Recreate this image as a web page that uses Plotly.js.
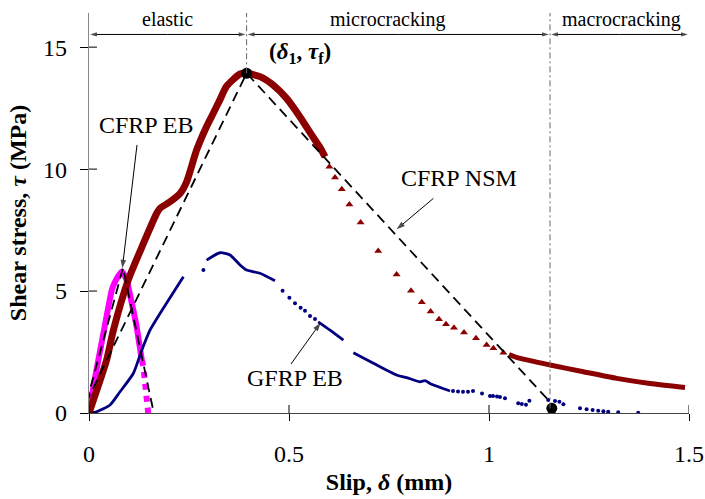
<!DOCTYPE html>
<html>
<head>
<meta charset="utf-8">
<script src="https://cdn.plot.ly/plotly-3.0.1.min.js"></script>
<style>html,body{margin:0;padding:0;background:#fff;}#chart{width:705px;height:499px;}</style>
</head>
<body>
<div id="chart"></div>
<script>
// ---- data ----
var xTicks = [0, 0.5, 1, 1.5];
var xTickLabels = ['0', '0.5', '1', '1.5'];
var yTicks = [0, 5, 10, 15];
var yTickLabels = ['0', '5', '10', '15'];

// CFRP EB (magenta)
var ebSolidX = [0, 0.011, 0.036, 0.057, 0.065, 0.082, 0.094, 0.107, 0.119, 0.132];
var ebSolidY = [0, 1.08, 3.27, 5.04, 5.38, 5.80, 5.45, 4.50, 3.54, 2.17];
var ebDotX = [0.132, 0.136, 0.142, 0.148];
var ebDotY = [2.17, 1.9, 0.95, 0];

// GFRP EB (navy): dense parts drawn as line, sparse parts as dots
var gfrpLineX = [0, 0.019, 0.0525, 0.0775, 0.111, 0.132, 0.1525, 0.1775, 0.236, null,
  0.294, 0.3275, 0.3525, 0.3775, 0.394, 0.4275, 0.465, null,
  0.573, 0.6025, 0.636, null,
  0.661, 0.711, 0.769, 0.8, 0.8275, 0.84, 0.8525, 0.9025];
var gfrpLineY = [0, 0.05, 0.33, 0.87, 1.63, 2.58, 3.4, 4.08, 5.59, null,
  6.27, 6.57, 6.48, 6.07, 5.86, 5.73, 5.42, null,
  3.74, 3.4, 2.99, null,
  2.47, 2.04, 1.56, 1.42, 1.28, 1.33, 1.21, 0.9];
var gfrpDotX = [0.286, 0.484, 0.501, 0.515, 0.529, 0.54, 0.5525, 0.565,
  0.91, 0.9225, 0.935, 0.9475, 0.96, 0.9825, 1.0025, 1.01, 1.02, 1.0275, 1.04,
  1.073, 1.082, 1.0925, 1.101, 1.148, 1.165, 1.176, 1.186,
  1.2275, 1.244, 1.259, 1.273, 1.286, 1.298, 1.323, 1.373];
var gfrpDotY = [5.86, 5.01, 4.73, 4.5, 4.32, 4.19, 3.98, 3.85,
  0.9, 0.88, 0.87, 0.87, 0.9, 0.8, 0.7, 0.7, 0.68, 0.66, 0.6,
  0.4, 0.37, 0.34, 0.5, 0.53, 0.49, 0.46, 0.36,
  0.19, 0.15, 0.12, 0.09, 0.07, 0.05, 0.03, 0.01];

// CFRP NSM (dark red)
var nsmDenseX = [0, 0.011, 0.044, 0.061, 0.098, 0.136, 0.169, 0.1775, 0.2025, 0.2275, 0.244, 0.269, 0.294, 0.311, 0.3275, 0.344, 0.3775, 0.394, 0.4275, 0.461, 0.494, 0.5275, 0.557, 0.5775, 0.59];
var nsmDenseY = [0, 0.53, 2.17, 3.4, 5.45, 6.95, 8.18, 8.39, 8.66, 9.0, 9.48, 10.78, 11.75, 12.3, 12.85, 13.4, 13.9, 13.93, 13.79, 13.44, 12.9, 12.14, 11.39, 10.89, 10.5];
var nsmSparseX = [0.601, 0.615, 0.632, 0.651, 0.679, 0.723, 0.769, 0.805, 0.832, 0.854, 0.875, 0.8925, 0.9125, 0.9375, 0.9675, 0.994, 1.011, 1.036];
var nsmSparseY = [10.1, 9.66, 9.17, 8.55, 7.81, 6.64, 5.68, 5.01, 4.54, 4.16, 3.84, 3.64, 3.5, 3.3, 3.06, 2.79, 2.65, 2.47];
var nsmTailX = [1.05, 1.069, 1.1525, 1.236, 1.319, 1.4025, 1.49];
var nsmTailY = [2.4, 2.28, 1.97, 1.69, 1.42, 1.21, 1.05];

// Bilinear models (dashed)
var ebModelX = [-0.006, 0.085, 0.162];
var ebModelY = [0.45, 5.95, 0];
var nsmModelX = [-0.008, 0.394, 1.15];
var nsmModelY = [0.4, 13.93, 0.5];

// Key points (delta1, tauf) and (deltaf, 0)
var keyX = [0.394, 1.157];
var keyY = [13.93, 0.19];

// Stage boundaries and labels
var stageBounds = [0, 0.394, 1.1525, 1.5];
var stageNames = ['elastic', 'microcracking', 'macrocracking'];
var stageLabelX = [0.195, 0.7475, 1.33];

// Curve labels and their pointer arrows (tail -> head)
var curveNames = ['CFRP EB', 'CFRP NSM', 'GFRP EB'];
var curveLabelX = [0.1425, 0.925, 0.515];
var curveLabelY = [11.81, 9.63, 1.435];
var pointerTailX = [0.12, 0.861, 0.505];
var pointerTailY = [10.99, 8.80, 2.01];
var pointerHeadX = [0.0833, 0.769, 0.579];
var pointerHeadY = [5.93, 7.53, 3.70];

var RED = '#8B0000', NAVY = '#000080', MAG = '#FF00FF';
var FONT = 'Liberation Serif, Times New Roman, serif';
var yTop = 16.4;
var arrowY = 15.52;

// build arrow traces (line + arrow-tip marker at the head)
var pX = [], pY = [], pS = [];
for (var k = 0; k < pointerTailX.length; k++) {
  pX.push(pointerTailX[k], pointerHeadX[k], null);
  pY.push(pointerTailY[k], pointerHeadY[k], null);
  pS.push(0, 9, 0);
}
var sX = [], sY = [], sS = [];
for (var i = 0; i < stageNames.length; i++) {
  var a = stageBounds[i] + 0.003, b = stageBounds[i + 1] - 0.003, m = (a + b) / 2;
  sX.push(m, b, null, m, a, null);
  sY.push(arrowY, arrowY, null, arrowY, arrowY, null);
  sS.push(0, 7, 0, 0, 7, 0);
}

var traces = [
  {x: ebSolidX, y: ebSolidY, mode: 'lines', line: {color: MAG, width: 6, shape: 'spline', smoothing: 0.5}, hoverinfo: 'skip'},
  {x: ebDotX, y: ebDotY, mode: 'lines', line: {color: MAG, width: 6, dash: 'dot'}, hoverinfo: 'skip'},
  {x: gfrpLineX, y: gfrpLineY, mode: 'lines', line: {color: NAVY, width: 2.8, shape: 'spline', smoothing: 0.6}, connectgaps: false, hoverinfo: 'skip'},
  {x: gfrpDotX, y: gfrpDotY, mode: 'markers', marker: {color: NAVY, size: 4, symbol: 'circle'}, hoverinfo: 'skip'},
  {x: nsmDenseX, y: nsmDenseY, mode: 'lines', line: {color: RED, width: 7, shape: 'spline', smoothing: 0.6}, hoverinfo: 'skip'},
  {x: nsmSparseX, y: nsmSparseY, mode: 'markers', marker: {color: RED, size: 7, symbol: 'triangle-up'}, hoverinfo: 'skip'},
  {x: nsmTailX, y: nsmTailY, mode: 'lines', line: {color: RED, width: 5, shape: 'spline', smoothing: 0.6}, hoverinfo: 'skip'},
  {x: ebModelX, y: ebModelY, mode: 'lines', line: {color: '#000', width: 1.8, dash: '10px,6px'}, hoverinfo: 'skip'},
  {x: nsmModelX, y: nsmModelY, mode: 'lines', line: {color: '#000', width: 1.8, dash: '10px,6px'}, hoverinfo: 'skip'},
  {x: keyX, y: keyY, mode: 'markers', marker: {color: '#000', size: 11}, cliponaxis: false, hoverinfo: 'skip'},
  {x: pX, y: pY, mode: 'lines+markers', line: {color: '#000', width: 1}, connectgaps: false,
   marker: {symbol: 'arrow', angleref: 'previous', size: pS, color: '#000', line: {width: 0}}, cliponaxis: false, hoverinfo: 'skip'},
  {x: sX, y: sY, mode: 'lines+markers', line: {color: '#000', width: 1}, connectgaps: false,
   marker: {symbol: 'arrow', angleref: 'previous', size: sS, color: '#000', line: {width: 0}}, cliponaxis: false, hoverinfo: 'skip'}
];

var shapes = [
  {type: 'line', xref: 'x', yref: 'y', x0: stageBounds[1], x1: stageBounds[1], y0: keyY[0], y1: yTop,
   line: {color: '#666', width: 1, dash: '6px,3px,2px,3px'}},
  {type: 'line', xref: 'x', yref: 'y', x0: stageBounds[2], x1: stageBounds[2], y0: keyY[1], y1: yTop,
   line: {color: '#666', width: 1, dash: '6px,3px,2px,3px'}}
];
// inner halves of the crossing tick marks
xTicks.forEach(function (t) {
  shapes.push({type: 'line', xref: 'x', yref: 'y', ysizemode: 'pixel', yanchor: 0, x0: t, x1: t, y0: 0, y1: 8,
    line: {color: '#000', width: 1}});
});
yTicks.forEach(function (t) {
  shapes.push({type: 'line', xref: 'x', yref: 'y', xsizemode: 'pixel', xanchor: 0, x0: 0, x1: 8, y0: t, y1: t,
    line: {color: '#000', width: 1}});
});

function label(txt, x, y, size) {
  return {x: x, y: y, xref: 'x', yref: 'y', text: txt, showarrow: false,
    font: {family: FONT, size: size, color: '#000'}, xanchor: 'center', yanchor: 'middle'};
}
var annotations = [];
for (var j = 0; j < stageNames.length; j++) annotations.push(label(stageNames[j], stageLabelX[j], 16.15, 20));
for (var c = 0; c < curveNames.length; c++) annotations.push(label(curveNames[c], curveLabelX[c], curveLabelY[c], 24));
annotations.push(label('<b>(<i>δ</i><sub>1</sub>, <i>τ</i><sub>f</sub>)</b>', 0.5275, 14.76, 23));
annotations.push(label('<b>(<i>δ</i><sub>f</sub>, 0)</b>', 1.155, -0.49, 23));

var tickFont = {family: FONT, size: 24, color: '#000'};
var layout = {
  width: 705, height: 499,
  margin: {l: 89, r: 16, t: 13, b: 86},
  paper_bgcolor: '#fff', plot_bgcolor: '#fff',
  showlegend: false,
  font: {family: FONT, color: '#000'},
  xaxis: {range: [0, 1.5], tickvals: xTicks, ticktext: xTickLabels, ticks: 'outside', ticklen: 7, tickwidth: 1, tickcolor: '#000',
    showline: true, linecolor: '#444', linewidth: 1.3, showgrid: false, zeroline: false, tickfont: tickFont,
    ticklabelstandoff: 12, fixedrange: true,
    title: {text: '<b>Slip, <i>δ</i> (mm)</b>', font: {family: FONT, size: 24, color: '#000'}, standoff: 7}},
  yaxis: {range: [0, yTop], tickvals: yTicks, ticktext: yTickLabels, ticks: 'outside', ticklen: 8, tickwidth: 1, tickcolor: '#000',
    showline: true, linecolor: '#888', linewidth: 1.3, showgrid: false, zeroline: false, tickfont: tickFont,
    ticklabelstandoff: 8, fixedrange: true,
    title: {text: '<b>Shear stress, <i>τ</i> (MPa)</b>', font: {family: FONT, size: 24, color: '#000'}, standoff: 9}},
  shapes: shapes,
  annotations: annotations
};

Plotly.newPlot('chart', traces, layout, {staticPlot: true, displayModeBar: false});
</script>
</body>
</html>
